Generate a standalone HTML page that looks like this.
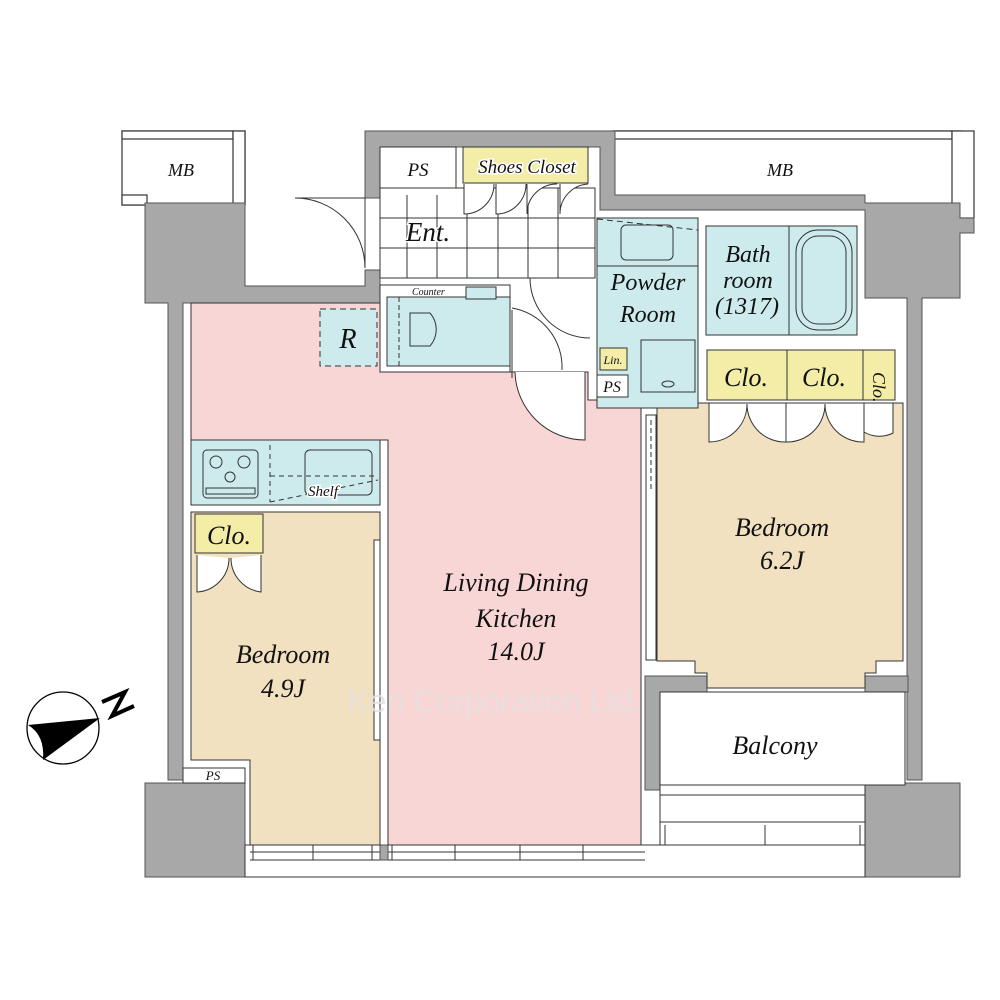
<!DOCTYPE html>
<html><head><meta charset="utf-8"><style>
html,body{margin:0;padding:0;background:#fff;width:1000px;height:1000px;overflow:hidden}
svg text{font-family:"Liberation Serif",serif;font-style:italic;fill:#111}
</style></head><body>
<svg width="1000" height="1000" viewBox="0 0 1000 1000" xmlns="http://www.w3.org/2000/svg">
<g stroke="#333" stroke-width="1.2">
<rect x="122" y="131" width="123" height="74" fill="#fff"/>
<rect x="122" y="131" width="111" height="8" fill="#fff"/>
<rect x="233" y="131" width="12" height="74" fill="#fff"/>
<rect x="122" y="195" width="25" height="10" fill="#fff"/>
<rect x="612" y="131" width="350" height="74" fill="#fff"/>
<rect x="612" y="131" width="340" height="8" fill="#fff"/>
<rect x="952" y="131" width="22" height="87" fill="#fff"/>
</g>
<g fill="#a8a8a8" stroke="#555" stroke-width="1">
<path d="M145,203 H245 V286 H365 V270 H380 V303 H183 V780 H168 V303 H145 Z"/>
<path d="M365,131 H615 V195 H865 V203 H960 V218 H974 V233 H960 V298 H922 V780 H907 V298 H865 V210 H600 V147 H380 V198 H365 Z"/>
<rect x="145" y="783" width="100" height="94"/>
<rect x="865" y="783" width="95" height="94"/>
<path d="M645,676 H707 V692 H660 V790 H645 Z"/>
<rect x="865" y="676" width="43" height="16"/>
</g>
<g fill="#fff" stroke="#333" stroke-width="1">
<rect x="245" y="845" width="620" height="32"/>
<rect x="660" y="692" width="245" height="93"/>
<rect x="660" y="785" width="205" height="60"/>
<line x1="660" y1="795" x2="865" y2="795"/><line x1="660" y1="822" x2="865" y2="822"/>
<line x1="665" y1="825" x2="665" y2="845"/><line x1="765" y1="825" x2="765" y2="845"/><line x1="860" y1="825" x2="860" y2="845"/>
<rect x="183" y="768" width="62" height="15"/>
</g>
<g stroke="#333" stroke-width="1" fill="none">
<line x1="250" y1="852" x2="645" y2="852"/><line x1="250" y1="860" x2="645" y2="860"/>
<line x1="253" y1="845" x2="253" y2="860"/><line x1="313" y1="845" x2="313" y2="860"/><line x1="372" y1="845" x2="372" y2="860"/>
<line x1="392" y1="845" x2="392" y2="860"/><line x1="455" y1="845" x2="455" y2="860"/><line x1="520" y1="845" x2="520" y2="860"/><line x1="583" y1="845" x2="583" y2="860"/>
</g>
<rect x="380" y="845" width="8" height="15" fill="#a8a8a8" stroke="#555"/>
<path d="M191,303 H380 V372 H588 V400 H641 V845 H388 V440 H191 Z" fill="#f9d6d6" stroke="#333" stroke-width="1"/>
<rect x="191" y="440" width="189" height="65" fill="#cdebed" stroke="#333"/>
<rect x="203" y="450" width="55" height="48" rx="4" fill="none" stroke="#333"/>
<circle cx="216" cy="462" r="6" fill="none" stroke="#333"/><circle cx="244" cy="462" r="6" fill="none" stroke="#333"/><circle cx="230" cy="477" r="5" fill="none" stroke="#333"/>
<rect x="206" y="488" width="49" height="6" fill="none" stroke="#333"/>
<rect x="305" y="450" width="67" height="45" rx="5" fill="none" stroke="#333"/>
<path d="M270,445 V502 M270,476 H378 M270,502 L378,480" stroke="#333" stroke-dasharray="5,4" fill="none"/>
<text x="308" y="496" font-size="15" style="paint-order:stroke" stroke="#fff" stroke-width="3">Shelf</text>
<path d="M191,512 H380 V845 H250 V760 H191 Z" fill="#f1e1c0" stroke="#333"/>
<rect x="195" y="514" width="68" height="39" fill="#f3eda8" stroke="#333"/>
<path d="M197,555 V592 A34,34 0 0 0 229,558 M261,555 V592 A34,34 0 0 1 231,558" fill="#fff" stroke="#333"/>
<rect x="374" y="540" width="6" height="200" fill="#fff" stroke="#333"/>
<path d="M657,403 H903 V661 H876 V673 H865 V688 H707 V673 H695 V661 H657 Z" fill="#f1e1c0" stroke="#333"/>
<rect x="707" y="350" width="188" height="50" fill="#f3eda8" stroke="#333"/>
<line x1="787" y1="350" x2="787" y2="400" stroke="#333"/><line x1="863" y1="350" x2="863" y2="400" stroke="#333"/>
<path d="M709,403 V442 A38,38 0 0 0 747,404 A38,38 0 0 0 786,442 V403 Z M786,403 V442 A38,38 0 0 0 825,404 A38,38 0 0 0 864,442 V403 Z M864,403 V432 A30,30 0 0 0 893,433 V403 Z" fill="#fff" stroke="#333"/>
<rect x="646" y="415" width="10" height="245" fill="#fff" stroke="#333"/>
<line x1="651" y1="420" x2="651" y2="490" stroke="#333" stroke-dasharray="5,3"/>
<rect x="380" y="188" width="215" height="90" fill="#fff" stroke="#333"/>
<g stroke="#333" stroke-width="1">
<line x1="380" y1="218" x2="595" y2="218"/><line x1="380" y1="248" x2="595" y2="248"/>
<line x1="407" y1="195" x2="407" y2="278"/><line x1="437" y1="195" x2="437" y2="278"/><line x1="467" y1="188" x2="467" y2="278"/><line x1="498" y1="188" x2="498" y2="278"/><line x1="528" y1="188" x2="528" y2="278"/><line x1="558" y1="188" x2="558" y2="278"/>
</g>
<rect x="380" y="147" width="76" height="41" fill="#fff" stroke="#333"/>
<rect x="463" y="147" width="125" height="36" fill="#f3eda8" stroke="#333"/>
<path d="M464,184 V214 A30,30 0 0 0 494,184 M496,184 V214 A30,30 0 0 0 526,184 M527,184 V214 A30,30 0 0 1 557,184 M560,184 V214 A30,30 0 0 1 588,184" fill="#fff" stroke="#333"/>
<path d="M365,198 H295 A70,70 0 0 1 365,268 Z" fill="#fff" stroke="#333"/>
<rect x="380" y="285" width="130" height="87" fill="#fff" stroke="#333"/>
<rect x="387" y="297" width="123" height="69" fill="#cdebed" stroke="#333"/>
<rect x="466" y="287" width="30" height="12" fill="#cdebed" stroke="#333"/>
<path d="M410,313 H430 A25,25 0 0 1 430,346 H410 Z" fill="none" stroke="#333"/>
<line x1="399" y1="297" x2="399" y2="366" stroke="#333" stroke-dasharray="5,3"/>
<text x="412" y="295" font-size="10">Counter</text>
<rect x="320" y="309" width="57" height="57" fill="#cdebed" stroke="#333" stroke-dasharray="6,4"/>
<path d="M512,310 V378 M512,308 A60,60 0 0 1 562,370" fill="none" stroke="#333"/>
<path d="M585,372 V440 A70,70 0 0 1 515,372" fill="#fff" stroke="#333"/>
<path d="M530,278 A60,60 0 0 0 590,338" fill="none" stroke="#333"/>
<rect x="597" y="218" width="101" height="190" fill="#cdebed" stroke="#333"/>
<rect x="621" y="225" width="52" height="35" rx="5" fill="none" stroke="#333"/>
<line x1="597" y1="219" x2="698" y2="230" stroke="#333" stroke-dasharray="6,4"/>
<line x1="597" y1="266" x2="698" y2="266" stroke="#333"/>
<rect x="641" y="340" width="54" height="52" fill="#cdebed" stroke="#333"/>
<ellipse cx="668" cy="384" rx="6" ry="3" fill="none" stroke="#333"/>
<rect x="600" y="348" width="27" height="22" fill="#f3eda8" stroke="#333"/>
<rect x="597" y="375" width="31" height="22" fill="#fff" stroke="#333"/>
<rect x="706" y="226" width="151" height="109" fill="#cdebed" stroke="#333"/>
<line x1="789" y1="226" x2="789" y2="335" stroke="#333"/>
<rect x="796" y="230" width="56" height="100" rx="22" fill="none" stroke="#333"/>
<rect x="802" y="236" width="44" height="88" rx="16" fill="none" stroke="#333"/>
<circle cx="63" cy="728" r="36" fill="#fff" stroke="#000" stroke-width="1.3"/>
<path d="M100,718 L28,725 Q45,735 43,760 Z" fill="#000"/>
<path d="M102,702 L125,692 L112,716 L134,706" fill="none" stroke="#000" stroke-width="4"/>
<g text-anchor="middle">
<text x="181" y="176" font-size="18">MB</text>
<text x="780" y="176" font-size="18">MB</text>
<text x="418" y="176" font-size="19">PS</text>
<text x="527" y="173" font-size="19" style="paint-order:stroke" stroke="#fff" stroke-width="3">Shoes Closet</text>
<text x="428" y="241" font-size="27" style="paint-order:stroke" stroke="#fff" stroke-width="3">Ent.</text>
<text x="348" y="348" font-size="28">R</text>
<text x="648" y="290" font-size="24">Powder</text>
<text x="648" y="322" font-size="24">Room</text>
<text x="748" y="262" font-size="24">Bath</text>
<text x="748" y="288" font-size="24">room</text>
<text x="747" y="314" font-size="24">(1317)</text>
<text x="613" y="364" font-size="12">Lin.</text>
<text x="612" y="392" font-size="16">PS</text>
<text x="746" y="386" font-size="26">Clo.</text>
<text x="824" y="386" font-size="26">Clo.</text>
<text x="229" y="544" font-size="26">Clo.</text>
<text x="782" y="536" font-size="26">Bedroom</text>
<text x="782" y="569" font-size="26">6.2J</text>
<text x="516" y="591" font-size="26">Living Dining</text>
<text x="516" y="627" font-size="26">Kitchen</text>
<text x="516" y="660" font-size="26">14.0J</text>
<text x="283" y="663" font-size="26">Bedroom</text>
<text x="283" y="697" font-size="26">4.9J</text>
<text x="775" y="754" font-size="26">Balcony</text>
<text x="213" y="780" font-size="13">PS</text>
<text x="495" y="712" font-size="32" style="font-family:'Liberation Sans',sans-serif;font-style:normal;fill:#e6e0e0;opacity:.8">Ken Corporation Ltd.</text>
</g>
<text x="0" y="0" font-size="18" transform="translate(873,372) rotate(90)">Clo.</text>
</svg>
</body></html>
